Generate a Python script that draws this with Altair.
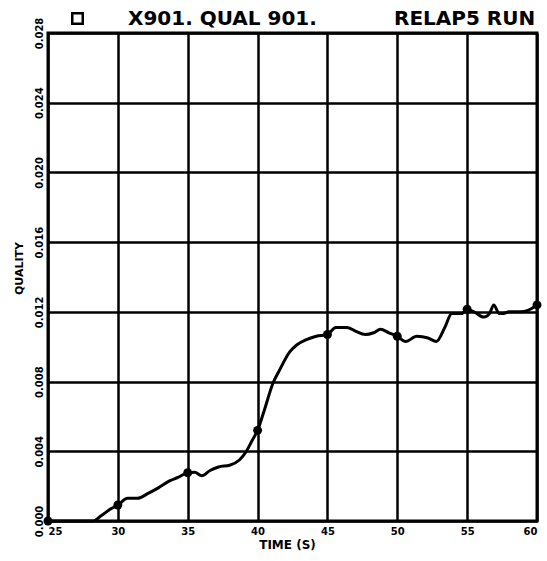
import altair as alt
import pandas as pd

# Quality history computed by the code run (continuous trace)
time_s = [25, 28.2, 28.8, 29.5, 30, 30.7, 31.4, 32.2, 32.9, 33.7, 34.3, 35,
          35.5, 36.0, 36.6, 37.2, 38.0, 38.7, 39.2, 39.6, 40, 40.5, 41.1,
          41.6, 42.3, 42.8, 43.5, 44.2, 45, 45.6, 46.4, 47.0, 47.7, 48.3,
          48.8, 49.4, 50, 50.6, 51.4, 52.2, 52.8, 53.4, 53.9, 54.6, 55,
          55.5, 56.2, 56.6, 56.9, 57.3, 57.6, 58.0, 58.8, 59.4, 60]
quality = [0.0, 0.0, 0.0003, 0.0007, 0.00092, 0.0013, 0.0013, 0.0016, 0.0019,
           0.0023, 0.0025, 0.00277, 0.0028, 0.0026, 0.0029, 0.0031, 0.0032,
           0.0035, 0.0040, 0.0046, 0.0052, 0.0064, 0.0079, 0.0087, 0.0097,
           0.0101, 0.0104, 0.0106, 0.0107, 0.0111, 0.0111, 0.0109, 0.0107,
           0.0108, 0.0110, 0.0108, 0.0106, 0.0103, 0.0106, 0.0105, 0.0103,
           0.0111, 0.0119, 0.0119, 0.01215, 0.0120, 0.0117, 0.0119, 0.0124,
           0.0119, 0.0119, 0.0120, 0.0120, 0.0121, 0.0124]

# Symbols plotted every 5 s along the trace
marker_time = [25, 30, 35, 40, 45, 50, 55, 60]
marker_quality = [0.0, 0.00092, 0.00277, 0.0052, 0.0107, 0.0106, 0.01215, 0.0124]

x_ticks = [25, 30, 35, 40, 45, 50, 55, 60]
y_ticks = [0.000, 0.004, 0.008, 0.012, 0.016, 0.020, 0.024, 0.028]

# Header: curve identifier and run description
title_case = ["X901.\u00a0QUAL\u00a0901."]
title_run = ["RELAP5\u00a0RUN"]

trace = pd.DataFrame({"t": time_s, "q": quality})
marks = pd.DataFrame({"t": marker_time, "q": marker_quality})

FONT = "DejaVu Sans"

x_enc = alt.X(
    "t:Q",
    scale=alt.Scale(domain=[25, 60], nice=False, zero=False),
    axis=alt.Axis(
        values=x_ticks, format="d", title="TIME (S)", grid=True,
        labelPadding=5, labelBaseline="top", labelFontSize=10,
        titleY=23, titleX=239, titleBaseline="middle", titleFontSize=12,
    ),
)
y_enc = alt.Y(
    "q:Q",
    scale=alt.Scale(domain=[0, 0.028], nice=False),
    axis=alt.Axis(
        values=y_ticks, format=".3f", title="QUALITY", grid=True,
        labelAngle=270, labelAlign="center", labelBaseline="middle",
        labelPadding=9, labelFontSize=10,
        titleAngle=270, titleX=-29, titleY=235, titleAlign="center",
        titleBaseline="middle", titleFontSize=11,
    ),
)

line = alt.Chart(trace).mark_line(
    color="black", strokeWidth=3, interpolate="monotone"
).encode(x=x_enc, y=y_enc)

dots = alt.Chart(marks).mark_point(
    filled=True, color="black", size=80, opacity=1
).encode(x="t:Q", y="q:Q")

# Header drawn above the frame
head_style = dict(font=FONT, fontSize=20, fontWeight="bold", color="black",
                  align="left", baseline="alphabetic")
head_case = alt.Chart(pd.DataFrame({"label": title_case})).mark_text(
    **head_style
).encode(text="label:N", x=alt.value(80), y=alt.value(-8))
head_run = alt.Chart(pd.DataFrame({"label": title_run})).mark_text(
    **head_style
).encode(text="label:N", x=alt.value(346), y=alt.value(-8))
head_symbol = alt.Chart(pd.DataFrame({"label": ["X901"]})).mark_point(
    shape="square", filled=False, color="black", strokeWidth=2.5,
    size=110, opacity=1
).encode(x=alt.value(29.5), y=alt.value(-14.5))

chart = (
    alt.layer(line, dots, head_symbol, head_case, head_run)
    .properties(
        width=489,
        height=488,
        autosize=alt.AutoSizeParams(type="none"),
        padding={"left": 48, "top": 33, "right": 10, "bottom": 40},
    )
    .configure(background="white")
    .configure_view(stroke="black", strokeWidth=3)
    .configure_axis(
        labelFont=FONT, titleFont=FONT, labelFontWeight="bold",
        titleFontWeight="bold", labelColor="black", titleColor="black",
        gridColor="black", gridWidth=2.5, gridOpacity=1,
        domain=False, ticks=False,
    )
)

chart.save("out.html", embed_options={"renderer": "svg", "actions": False})
